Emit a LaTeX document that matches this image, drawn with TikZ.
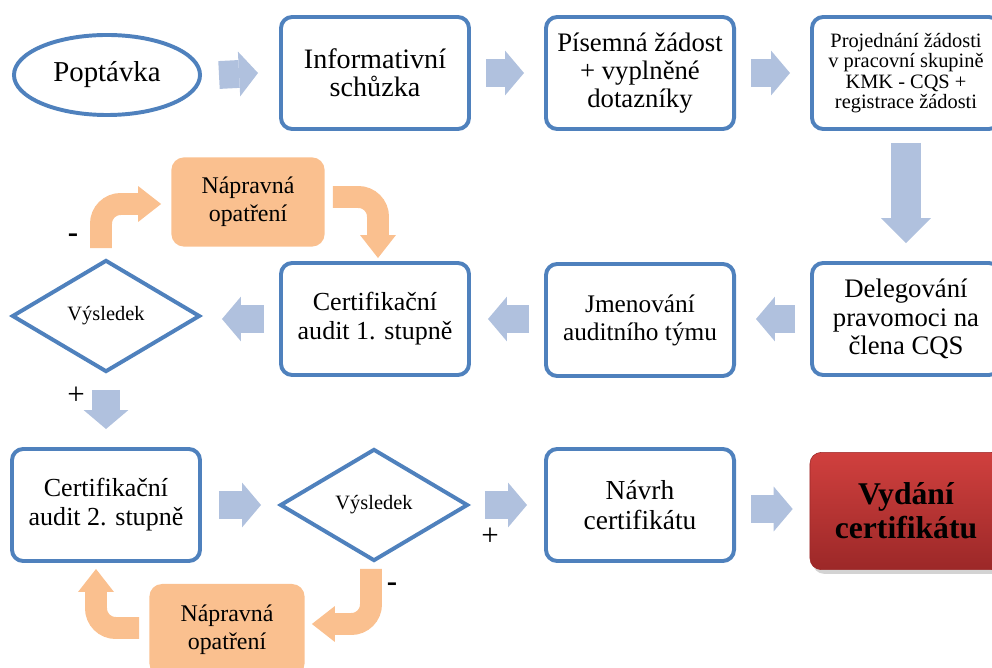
\documentclass[tikz,border=0pt]{standalone}
\usepackage{fontspec}
\setmainfont{Liberation Serif}
\usetikzlibrary{arrows.meta, shapes.geometric, shadows}

\definecolor{boxblue}{RGB}{79,129,189}
\definecolor{arrowblue}{RGB}{176,193,222}
\definecolor{fixorange}{RGB}{250,192,143}
\definecolor{redtop}{RGB}{208,64,62}
\definecolor{redbottom}{RGB}{156,40,40}

\begin{document}
\begin{tikzpicture}[x=0.025cm, y=-0.025cm,
    box/.style={draw=boxblue, line width=2.8pt, rounded corners=8pt, fill=white,
        align=center, minimum width=4.7cm, minimum height=2.8cm, inner sep=2pt,
        font=\fontsize{19}{20}\selectfont},
    decision/.style={diamond, draw=boxblue, line width=2.8pt, fill=white,
        minimum width=4.7cm, minimum height=2.8cm, inner sep=0pt,
        font=\fontsize{14.5}{16}\selectfont},
    fixbox/.style={fill=fixorange, rounded corners=9pt, align=center,
        minimum width=3.83cm, minimum height=2.23cm,
        font=\fontsize{17}{19.8}\selectfont},
    barrow/.style={draw=arrowblue, line width=19.8pt,
        -{Triangle[length=13.5pt, width=31.9pt, line width=0pt]}},
    oarrow/.style={draw=fixorange, line width=15.6pt, rounded corners=14pt,
        -{Triangle[length=16.3pt, width=25.5pt, line width=0pt]}},
    sign/.style={font=\fontsize{22}{22}\selectfont, inner sep=0pt}]
    \clip (0,0) rectangle (992,668);

    \node[ellipse, draw=boxblue, line width=2.8pt, minimum width=4.65cm, minimum height=2.0cm,
        font=\fontsize{20.5}{22}\selectfont] (pop) at (107,75) {Poptávka};
    \node[box, font=\fontsize{20}{20}\selectfont] (info) at (375,73) {Informativní\\schůzka};
    \node[box] (pis) at (640,73) {Písemná žádost\\+ vyplněné\\dotazníky};
    \node[box, font=\fontsize{14.5}{14.6}\selectfont] (proj) at (906,73)
        {Projednání žádosti\\v pracovní skupině\\KMK - CQS +\\registrace žádosti};

    \node[box] (del) at (906,319) {Delegování\\pravomoci na\\člena CQS};
    \node[box, font=\fontsize{18}{20}\selectfont] (jme) at (640,320) {Jmenování\\auditního týmu};
    \node[box, font=\fontsize{18.5}{20.6}\selectfont] (ca1) at (375,319) {Certifikační\\audit 1. stupně};
    \node[decision] (vys1) at (106,316) {Výsledek};
    \node[fixbox] (nap1) at (248,202) {Nápravná\\opatření};

    \node[box, font=\fontsize{18.5}{20.6}\selectfont] (ca2) at (106,505) {Certifikační\\audit 2. stupně};
    \node[decision] (vys2) at (374,505) {Výsledek};
    \node[box, font=\fontsize{19.5}{21}\selectfont] (nav) at (640,505) {Návrh\\certifikátu};
    \node[draw=redbottom, thin, top color=redtop, bottom color=redbottom, rounded corners=8pt,
        drop shadow={shadow xshift=2pt, shadow yshift=-3pt, opacity=0.35},
        minimum width=4.8cm, minimum height=2.93cm, align=center,
        font=\fontsize{22.5}{24}\selectfont\bfseries] (vyd) at (906,511) {Vydání\\certifikátu};
    \node[fixbox, minimum width=3.88cm, minimum height=2.3cm] (nap2) at (227,630) {Nápravná\\opatření};

    \draw[barrow] ([shift={(17,0)}]pop.east) -- ([shift={(-21,0)}]info.west);
    \draw[barrow] ([shift={(15,0)}]info.east) -- ([shift={(-20,0)}]pis.west);
    \draw[barrow] ([shift={(15,0)}]pis.east) -- ([shift={(-20,0)}]proj.west);
    \draw[barrow, line width=22pt, -{Triangle[length=17.7pt, width=35.4pt, line width=0pt]}]
        ([shift={(0,12)}]proj.south) -- ([shift={(0,-18)}]del.north);
    \draw[barrow] ([shift={(-15,0)}]del.west) -- ([shift={(20,-1)}]jme.east);
    \draw[barrow] ([shift={(-15,-1)}]jme.west) -- ([shift={(17,0)}]ca1.east);
    \draw[barrow] ([shift={(-15,0)}]ca1.west) -- ([shift={(20,3)}]vys1.east);
    \draw[barrow] ([shift={(0,16)}]vys1.south) -- ([shift={(0,-18)}]ca2.north);
    \draw[barrow] ([shift={(17,0)}]ca2.east) -- ([shift={(-17,0)}]vys2.west);
    \draw[barrow] ([shift={(15,0)}]vys2.east) -- ([shift={(-17,0)}]nav.west);
    \draw[barrow] ([shift={(15,4)}]nav.east) -- ([shift={(-17,-2)}]vyd.west);

    \draw[oarrow] ([shift={(-5,-10)}]vys1.north) |- ([shift={(-10,2)}]nap1.west);
    \draw[oarrow] ([shift={(8,-5)}]nap1.east) -| ([shift={(3,-3)}]ca1.north);
    \draw[oarrow] ([shift={(-3,6)}]vys2.south) |- ([shift={(7,-6)}]nap2.east);
    \draw[oarrow] ([shift={(-10,-2)}]nap2.west) -| ([shift={(-10,6)}]ca2.south);

    \node[sign] (minus1) at (73,238) {\textbf{-}};
    \node[sign] (plus1) at (76,396) {+};
    \node[sign] (plus2) at (490,537) {+};
    \node[sign] (minus2) at (392,587) {\textbf{-}};
\end{tikzpicture}
\end{document}
